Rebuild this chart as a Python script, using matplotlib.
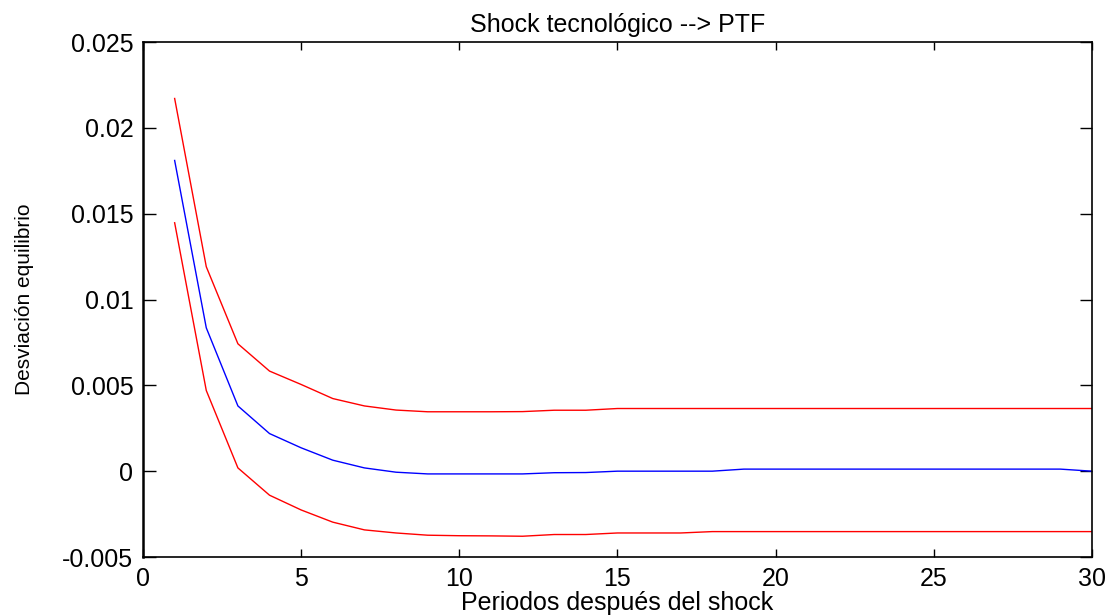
import numpy as np
import matplotlib
matplotlib.use('Agg')
import matplotlib.pyplot as plt

# impulse response: technology shock -> PTF
periods = list(range(1, 31))

irf_mid = [0.0181, 0.00835, 0.0038, 0.00219, 0.00136, 0.00064, 0.00019, -0.00006,
           -0.00016, -0.00016, -0.00016, -0.00016, -0.00009, -0.00008, 0.0, 0.0,
           0.0, 0.0, 0.00012, 0.00012, 0.00012, 0.00012, 0.00012, 0.00012,
           0.00012, 0.00012, 0.00012, 0.00012, 0.00012, 0.0]

irf_upper = [0.02171, 0.01191, 0.00742, 0.00583, 0.00505, 0.00423, 0.0038, 0.00356,
             0.00346, 0.00346, 0.00346, 0.00347, 0.00355, 0.00355, 0.00365, 0.00365,
             0.00365, 0.00365, 0.00365, 0.00365, 0.00365, 0.00365, 0.00365, 0.00365,
             0.00365, 0.00365, 0.00365, 0.00365, 0.00365, 0.00365]

irf_lower = [0.01447, 0.0047, 0.00019, -0.0014, -0.00226, -0.00297, -0.00342, -0.0036,
             -0.00373, -0.00376, -0.00377, -0.00379, -0.00369, -0.00369, -0.0036, -0.0036,
             -0.0036, -0.00352, -0.00352, -0.00352, -0.00352, -0.00352, -0.00352, -0.00352,
             -0.00352, -0.00352, -0.00352, -0.00352, -0.00352, -0.00352]

xticks = [0, 5, 10, 15, 20, 25, 30]
yticks = [-0.005, 0, 0.005, 0.01, 0.015, 0.02, 0.025]
ytick_labels = ['-0.005', '0', '0.005', '0.01', '0.015', '0.02', '0.025']

plt.rcParams['font.family'] = ['Liberation Sans', 'DejaVu Sans']

fig = plt.figure(figsize=(11.13, 6.15), dpi=100)
ax = fig.add_axes([0.1285, 0.0943, 0.8525, 0.8374])

ax.plot(periods, irf_upper, color='red', lw=1.0)
ax.plot(periods, irf_mid, color='blue', lw=1.0)
ax.plot(periods, irf_lower, color='red', lw=1.0)

ax.set_xlim(0, 30)
ax.set_ylim(-0.005, 0.025)
ax.set_xticks(xticks)
ax.set_yticks(yticks)
ax.set_yticklabels(ytick_labels)
ax.tick_params(axis='x', direction='in', top=True, length=6, width=1,
               labelsize=18, pad=7)
ax.tick_params(axis='y', direction='in', right=True, length=9, width=1,
               labelsize=18, pad=7)
for s in ax.spines.values():
    s.set_linewidth(1.2)
ax.spines['left'].set_linewidth(1.8)

ax.set_title('Shock tecnológico --> PTF', fontsize=18, pad=7)
ax.set_xlabel('Periodos después del shock', fontsize=18, labelpad=0)
ax.set_ylabel('Desviación equilibrio', fontsize=15)
ax.yaxis.set_label_coords(-0.115, 0.5)

plt.savefig('out.png', dpi=100)
